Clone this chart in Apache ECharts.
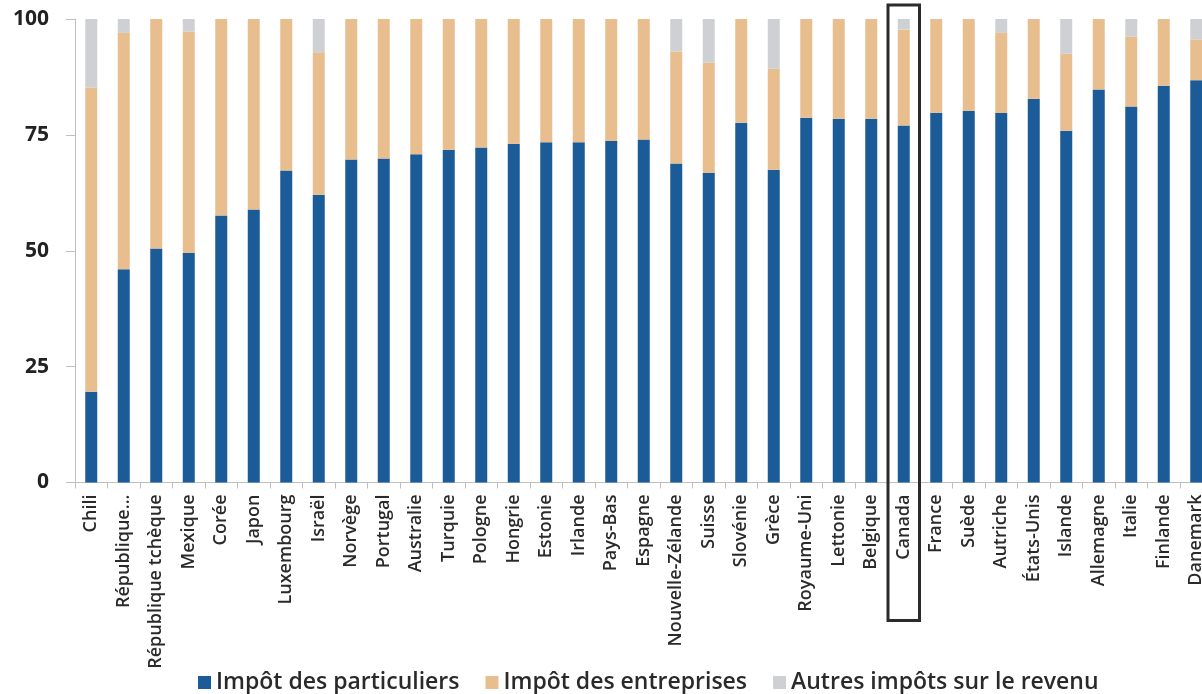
<!DOCTYPE html>
<html>
<head>
<meta charset="utf-8">
<script src="https://cdn.jsdelivr.net/npm/echarts@6/dist/echarts.min.js"></script>
<style>
html,body{margin:0;padding:0;background:#fff;overflow:hidden;width:1202px;height:694px;}
#c{width:1214px;height:694px;}
</style>
</head>
<body>
<div id="c"></div>
<script>
var categories = ['Chili','République...','République tchèque','Mexique','Corée','Japon','Luxembourg','Israël','Norvège','Portugal','Australie','Turquie','Pologne','Hongrie','Estonie','Irlande','Pays-Bas','Espagne','Nouvelle-Zélande','Suisse','Slovénie','Grèce','Royaume-Uni','Lettonie','Belgique','Canada','France','Suède','Autriche','États-Unis','Islande','Allemagne','Italie','Finlande','Danemark'];
var particuliers = [19.6,46.0,50.5,49.5,57.6,58.9,67.3,62.1,69.7,69.9,70.8,71.8,72.3,73.1,73.4,73.4,73.7,74.0,68.8,66.8,77.6,67.5,78.7,78.5,78.5,77.0,79.8,80.2,79.7,82.8,75.9,84.8,81.1,85.6,86.8];
var entreprises = [65.6,51.0,49.5,47.8,42.4,41.1,32.7,30.7,30.3,30.1,29.2,28.2,27.7,26.9,26.6,26.6,26.3,26.0,24.2,23.8,22.4,21.8,21.3,21.5,21.5,20.7,20.2,19.8,17.3,17.2,16.6,15.2,15.1,14.4,8.8];
var autres = [14.8,3.0,0,2.7,0,0,0,7.2,0,0,0,0,0,0,0,0,0,0,7.0,9.4,0,10.7,0,0,0,2.3,0,0,3.0,0,7.5,0,3.8,0,4.4];
var yTicks = [0,25,50,75,100];
var seriesNames = ['Impôt des particuliers','Impôt des entreprises','Autres impôts sur le revenu'];
var highlighted = 'Canada';

var FONT = 'Open Sans';
var chart = echarts.init(document.getElementById('c'), null, {renderer:'canvas'});
var option = {
  animation:false,
  backgroundColor:'#fff',
  textStyle:{fontFamily:FONT},
  grid:{left:75, right:1.5, top:19, bottom:211.5, containLabel:false},
  legend:{
    left:193, top:666, icon:'rect', itemWidth:13, itemHeight:13, itemGap:26,
    textStyle:{fontFamily:FONT, fontSize:23, fontWeight:600, color:'#2a2a2a'},
    data:seriesNames
  },
  xAxis:{
    type:'category', data:categories,
    axisLine:{lineStyle:{color:'#bfbfbf', width:1}},
    axisTick:{show:true, length:6, lineStyle:{color:'#bfbfbf'}},
    axisLabel:{rotate:90, interval:0, margin:12, fontFamily:FONT, fontSize:18, fontWeight:600, color:'#2a2a2a'}
  },
  yAxis:{
    type:'value', min:0, max:100, interval:25,
    splitLine:{show:false},
    axisLine:{show:true, lineStyle:{color:'#bfbfbf', width:1}},
    axisTick:{show:true, length:9, lineStyle:{color:'#bfbfbf'}},
    axisLabel:{fontFamily:FONT, fontSize:21, fontWeight:700, color:'#222', margin:26,
      formatter:function(v){return yTicks.indexOf(v)>=0 ? String(v) : '';}}
  },
  series:[
    {name:seriesNames[0], type:'bar', stack:'t', barWidth:12, data:particuliers,
     itemStyle:{color:'#1B5C98'}},
    {name:seriesNames[1], type:'bar', stack:'t', barWidth:12, data:entreprises,
     itemStyle:{color:'#E9BE8E'}},
    {name:seriesNames[2], type:'bar', stack:'t', barWidth:12, data:autres,
     itemStyle:{color:'#CFD0D3'}}
  ]
};
chart.setOption(option);

// highlight box around the Canada column, derived from the axes
var cx = chart.convertToPixel({xAxisIndex:0}, highlighted);
var yTop = chart.convertToPixel({yAxisIndex:0}, 100);
var yBot = chart.convertToPixel({yAxisIndex:0}, 0);
var band = (chart.convertToPixel({xAxisIndex:0}, categories[1]) - chart.convertToPixel({xAxisIndex:0}, categories[0]));
chart.setOption({
  graphic:[{
    type:'rect', z:100, silent:true,
    shape:{x:cx - band/2 + 0.5, y:yTop - 14, width:band - 1, height:(yBot - yTop) + 14 + 138},
    style:{fill:'none', stroke:'#2b2b2b', lineWidth:3}
  }]
});
</script>
</body>
</html>
